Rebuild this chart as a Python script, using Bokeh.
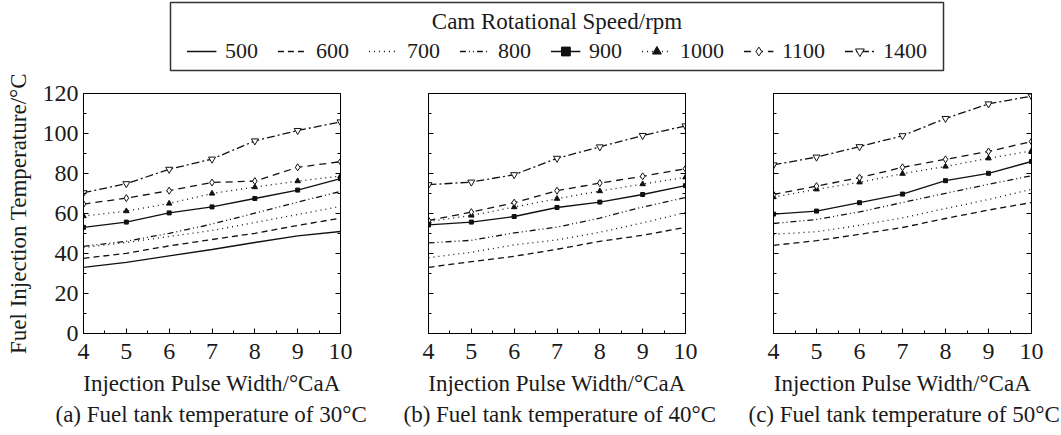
from bokeh.plotting import figure
from bokeh.layouts import column, row
from bokeh.models import (Range1d, LinearAxis, FixedTicker, Title, Legend,
                          LegendItem, Label)
from bokeh.embed import file_html
from bokeh.resources import INLINE

FONT = "Liberation Serif"
TXT = "#1a1a1a"

pulse_width = [4, 5, 6, 7, 8, 9, 10]
speeds = [500, 600, 700, 800, 900, 1000, 1100, 1400]
y_ticks = [0, 20, 40, 60, 80, 100, 120]
legend_title = "Cam Rotational Speed/rpm"
x_label = "Injection Pulse Width/°CaA"
y_label = "Fuel Injection Temperature/°C"
subtitles = ["(a) Fuel tank temperature of 30°C",
             "(b) Fuel tank temperature of 40°C",
             "(c) Fuel tank temperature of 50°C"]

# fuel tank 30 °C
temp30 = {
    500: [33.1, 35.6, 38.8, 42.0, 45.5, 48.8, 51.0],
    600: [37.6, 40.1, 43.8, 47.0, 50.1, 54.0, 57.7],
    700: [43.0, 45.5, 48.5, 51.5, 55.5, 59.5, 63.5],
    800: [43.6, 46.1, 50.1, 54.7, 60.2, 65.7, 71.0],
    900: [53.1, 55.7, 60.3, 63.3, 67.5, 71.7, 77.4],
    1000: [58.7, 61.2, 65.0, 70.0, 73.2, 76.2, 78.7],
    1100: [64.7, 67.7, 71.4, 75.5, 76.2, 83.1, 85.9],
    1400: [70.4, 74.9, 82.1, 87.2, 96.3, 101.5, 105.8],
}
# fuel tank 40 °C
temp40 = {
    600: [33.1, 35.9, 38.6, 42.1, 46.1, 49.1, 53.1],
    700: [37.9, 40.6, 44.3, 46.8, 50.6, 55.3, 60.5],
    800: [45.3, 46.6, 50.3, 53.2, 57.7, 63.2, 68.0],
    900: [54.3, 55.7, 58.5, 63.0, 65.7, 69.5, 73.9],
    1000: [56.0, 59.0, 63.2, 67.4, 71.2, 74.7, 78.1],
    1100: [56.5, 60.7, 65.4, 71.4, 75.2, 78.6, 82.4],
    1400: [74.4, 75.7, 79.4, 87.6, 93.3, 99.0, 103.8],
}
# fuel tank 50 °C
temp50 = {
    600: [44.1, 46.4, 49.6, 53.0, 57.5, 61.7, 65.5],
    700: [49.6, 50.9, 54.1, 57.8, 62.5, 67.0, 72.1],
    800: [55.0, 57.0, 60.8, 65.5, 70.1, 74.6, 78.9],
    900: [59.7, 61.2, 65.4, 69.7, 76.4, 80.1, 86.0],
    1000: [68.2, 72.1, 75.6, 79.9, 83.5, 87.6, 91.3],
    1100: [69.5, 73.7, 77.9, 83.1, 87.1, 91.0, 96.0],
    1400: [84.3, 88.2, 93.4, 98.9, 107.5, 114.8, 118.7],
}

LINE_C = "#111111"
styles = {
    500: dict(dash="solid", marker=None),
    600: dict(dash="6 4", marker=None),
    700: dict(dash="1 4", marker=None),
    800: dict(dash="6 3 1 3 1 3", marker=None),
    900: dict(dash="solid", marker="square", fill=True, size=4),
    1000: dict(dash="1 4", marker="triangle", fill=True, size=5.5),
    1100: dict(dash="7 5", marker="diamond", fill=False, size=7),
    1400: dict(dash="8 3 2 3", marker="inverted_triangle", fill=False, size=7),
}


def add_series(p, xs, ys, s):
    rs = [p.line(xs, ys, line_color=LINE_C, line_width=1.3, line_dash=s["dash"])]
    if s["marker"]:
        rs.append(p.scatter(xs, ys, marker=s["marker"], size=s["size"],
                            line_color=LINE_C, line_width=1,
                            fill_color=LINE_C if s["fill"] else "white"))
    return rs


def style_axis(ax, labels=True, ticks=None):
    ax.axis_line_color = "black"
    ax.major_tick_in = 5
    ax.major_tick_out = 0
    ax.minor_tick_in = 3
    ax.minor_tick_out = 0
    ax.major_tick_line_color = "black"
    ax.minor_tick_line_color = "black"
    ax.major_label_text_font = FONT
    ax.major_label_text_font_size = "24px"
    ax.major_label_text_color = TXT
    if not labels:
        ax.major_label_overrides = {t: "" for t in ticks}
    ax.axis_label_text_font = FONT
    ax.axis_label_text_font_size = "23px"
    ax.axis_label_text_font_style = "normal"
    ax.axis_label_text_color = TXT


def make_panel(temps, subtitle, width, bl, br, ylabels, sub_offset):
    p = figure(width=width, height=362, x_range=Range1d(4, 10),
               y_range=Range1d(0, 120), output_backend="svg",
               toolbar_location=None, min_border_left=bl, min_border_right=br,
               min_border_top=21, min_border_bottom=101)
    p.grid.visible = False
    p.outline_line_color = "black"
    p.background_fill_color = "white"
    for sp in speeds:
        if sp in temps:
            add_series(p, pulse_width, temps[sp], styles[sp])
    xt = FixedTicker(ticks=pulse_width,
                     minor_ticks=[v + 0.5 for v in pulse_width[:-1]])
    yt = FixedTicker(ticks=y_ticks,
                     minor_ticks=[v + 10 for v in y_ticks[:-1]])
    p.xaxis.ticker = xt
    p.yaxis.ticker = yt
    style_axis(p.xaxis[0])
    style_axis(p.yaxis[0], labels=ylabels, ticks=y_ticks)
    p.xaxis.axis_label = x_label
    p.xaxis.major_label_standoff = 10
    p.xaxis.axis_label_standoff = 9
    p.yaxis.major_label_standoff = 5
    if ylabels:
        p.yaxis.axis_label = y_label
        p.yaxis.axis_label_standoff = 9
    ra = LinearAxis(ticker=yt)
    style_axis(ra, labels=False, ticks=y_ticks)
    p.add_layout(ra, "right")
    p.add_layout(Title(text=subtitle, align="left", offset=sub_offset,
                       text_font=FONT, text_font_size="23px",
                       text_font_style="normal", text_color=TXT,
                       standoff=2), "below")
    return p


pa = make_panel(temp30, subtitles[0], 370, 83, 30, True, -28)
pb = make_panel(temp40, subtitles[1], 350, 58, 35, False, -25)
pc = make_panel(temp50, subtitles[2], 341, 53, 30, False, -25)

# legend strip (its frame is the legend box)
lg = figure(width=1061, height=72, x_range=Range1d(0, 1), y_range=Range1d(0, 1),
            output_backend="svg", toolbar_location=None,
            x_axis_location=None, y_axis_location=None,
            min_border_left=170, min_border_right=118,
            min_border_top=2, min_border_bottom=2)
lg.grid.visible = False
lg.outline_line_color = "#333333"
lg.outline_line_width = 1.5
items = []
for sp in speeds:
    # real data, lying outside this strip's 0..1 ranges: only the legend shows
    rs = add_series(lg, pulse_width, temp30[sp], styles[sp])
    items.append(LegendItem(label=str(sp), renderers=rs))
legend = Legend(items=items, orientation="horizontal", location="bottom_center",
                border_line_color=None, background_fill_alpha=0,
                label_text_font=FONT, label_text_font_size="22px",
                label_text_color=TXT, glyph_width=30, glyph_height=22,
                label_height=22, label_standoff=9, spacing=19,
                padding=0, margin=6)
lg.add_layout(legend)
lg.add_layout(Label(x=0.5, y=0.72, text=legend_title, text_align="center",
                    text_baseline="middle", text_font=FONT,
                    text_font_size="23px", text_color=TXT))

layout = column(lg, row(pa, pb, pc))
open("out.html", "w").write(file_html(layout, INLINE))
